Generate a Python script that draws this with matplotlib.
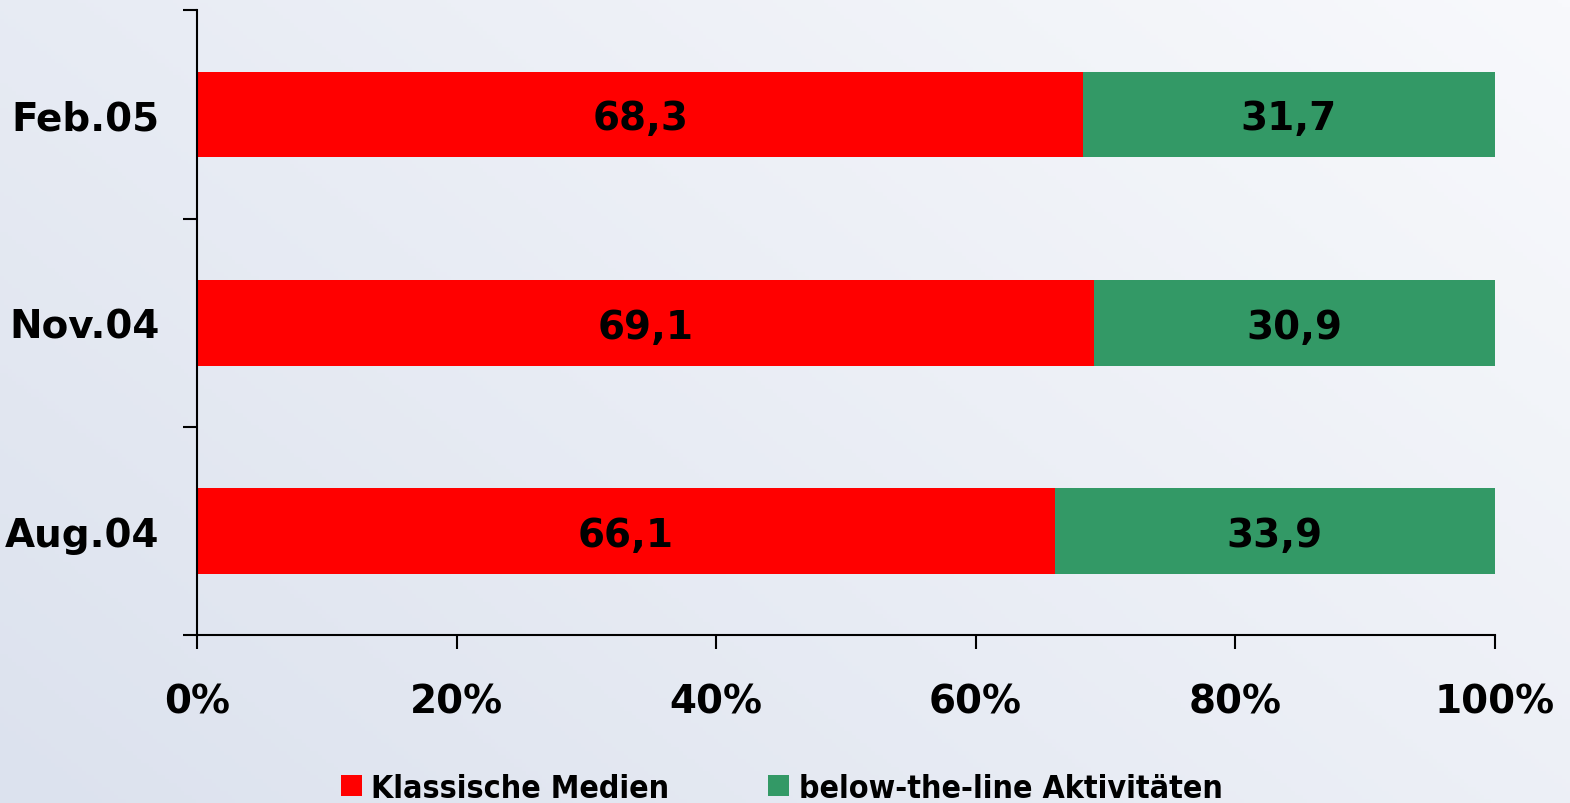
import numpy as np
import matplotlib
matplotlib.use("Agg")
import matplotlib.pyplot as plt
from matplotlib.patches import Patch
from matplotlib.colors import LinearSegmentedColormap

categories = ["Aug.04", "Nov.04", "Feb.05"]
klassische = [66.1, 69.1, 68.3]
below_line = [33.9, 30.9, 31.7]
series_names = ["Klassische Medien", "below-the-line Aktivitäten"]
xtick_labels = ["0%", "20%", "40%", "60%", "80%", "100%"]

RED = "#FF0000"
GREEN = "#339966"

fig = plt.figure(figsize=(15.70, 8.04), dpi=100)

# background gradient (bottom-left bluish, top-right near white)
bg = fig.add_axes([0, 0, 1, 1], zorder=-10)
ny, nx = 200, 400
yy, xx = np.mgrid[0:1:ny * 1j, 0:1:nx * 1j]
t = np.clip((xx * 0.6 + (1 - yy) * 0.4), 0, 1)
cmap = LinearSegmentedColormap.from_list("bg", ["#DCE2EE", "#F8F9FC"])
bg.imshow(t, cmap=cmap, aspect="auto", origin="upper", extent=[0, 1, 0, 1])
bg.axis("off")

ax = fig.add_axes([0.1255, 0.2085, 0.8265, 0.7775])
ax.patch.set_alpha(0)

y = np.arange(len(categories))
h = 0.41
ax.barh(y, klassische, height=h, color=RED, label=series_names[0])
ax.barh(y, below_line, height=h, left=klassische, color=GREEN, label=series_names[1])

lab_font = dict(fontsize=28, fontweight="bold", color="black", ha="center",
                va="center_baseline")
for yi, a, b in zip(y, klassische, below_line):
    ax.text(a / 2, yi, f"{a:.1f}".replace(".", ","), **lab_font)
    ax.text(a + b / 2, yi, f"{b:.1f}".replace(".", ","), **lab_font)

ax.set_xlim(0, 100)
ax.set_ylim(-0.5, len(categories) - 0.5)
ax.set_xticks(np.linspace(0, 100, 6))
ax.set_xticklabels(xtick_labels, fontsize=28, fontweight="bold")
ax.set_yticks(y)
ax.set_yticklabels(categories, fontsize=28, fontweight="bold")
ax.set_yticks(np.arange(-0.5, len(categories), 1.0), minor=True)
ax.tick_params(axis="y", which="major", length=0, pad=27)
ax.tick_params(axis="y", which="minor", length=10, width=1.5, direction="out")
ax.tick_params(axis="x", which="major", length=10, width=1.5, direction="out", pad=24)

for s in ["top", "right"]:
    ax.spines[s].set_visible(False)
for s in ["left", "bottom"]:
    ax.spines[s].set_linewidth(1.5)

handles = [Patch(facecolor=RED), Patch(facecolor=GREEN)]
fig.legend(handles, series_names, loc="center", bbox_to_anchor=(0.498, 0.0185),
           ncol=2, frameon=False, handlelength=0.65, handleheight=0.65,
           handletextpad=0.3, columnspacing=3.1, borderpad=0.1,
           prop=dict(size=23, weight="bold", stretch="condensed"))

fig.savefig("out.png", dpi=100)
